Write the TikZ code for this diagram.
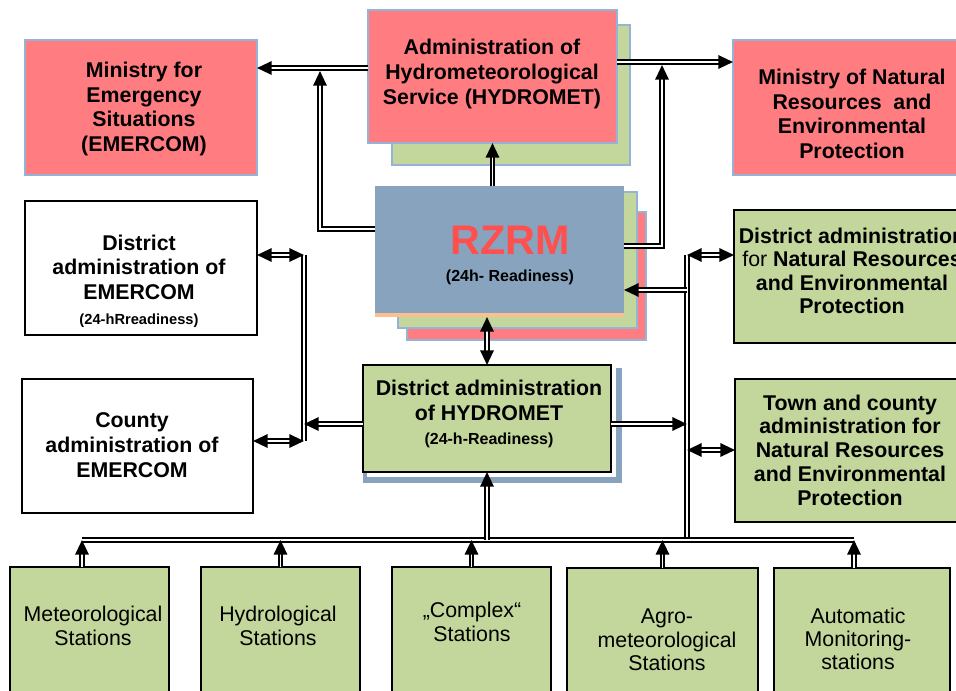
\documentclass[tikz,border=0pt]{standalone}
\usepackage{fontspec}
\setmainfont{Liberation Sans}
\usetikzlibrary{arrows.meta,fit}

\definecolor{boxred}{RGB}{255,124,128}
\definecolor{boxgreen}{RGB}{195,214,155}
\definecolor{boxblue}{RGB}{135,163,190}
\definecolor{edgeblue}{RGB}{149,179,215}
\definecolor{stripe}{RGB}{250,192,143}
\definecolor{rzrmred}{RGB}{255,80,80}

\tikzset{every picture/.style={line width=0.75pt}}
\tikzset{
  box/.style={inner sep=0pt, outer sep=0pt},
  redbox/.style={box, draw=edgeblue, fill=boxred, line width=1.2pt},
  layerbox/.style={box, draw=edgeblue, fill=boxgreen, line width=1.2pt},
  greenbox/.style={box, draw=black, fill=boxgreen, line width=1pt},
  whitebox/.style={box, draw=black, fill=white, line width=1pt},
  dline/.style={draw=black, double=white, double distance=0.8pt, line width=1.6pt},
  conn/.style={dline, -{Triangle[length=11pt,width=10pt]}},
  conntwo/.style={dline, {Triangle[length=11pt,width=10pt]}-{Triangle[length=11pt,width=10pt]}},
  btext/.style={inner sep=0.75pt, align=center, font=\fontsize{16}{18.5}\selectfont\bfseries},
  stext/.style={inner sep=0.75pt, align=center, font=\fontsize{16}{17.5}\selectfont},
}

\begin{document}
\begin{tikzpicture}[x=0.75pt,y=0.75pt,yscale=-1,xscale=1]
	\useasboundingbox (0,0) rectangle (956,690);

	%Shape: Rectangle [Ministry for Emergency Situations]
	\node[redbox, fit={(25,40) (257,175)}] (minemer) {};
	%Shape: Rectangle [HYDROMET, back layer and front]
	\node[layerbox, fit={(392,25) (630,165)}] (hydback) {};
	\node[redbox, fit={(368,10) (617,143)}] (hyd) {};
	%Shape: Rectangle [Ministry of Natural Resources]
	\node[redbox, fit={(733,40) (972,175)}] (minnr) {};
	%Shape: Rectangle [RZRM, three layers]
	\node[redbox, fit={(407,212) (646,340)}] (rzrmback) {};
	\node[layerbox, fit={(398,192) (637,328)}] (rzrmmid) {};
	\node[box, fill=stripe, fit={(375,186) (624,317)}] (rzrm) {};
	\fill[boxblue] (375,186) rectangle (624,313);
	%Shape: Rectangle [District administration of HYDROMET]
	\fill[boxblue] (363,368) rectangle (622,483);
	\fill[white] (367,368) rectangle (616,477);
	\node[greenbox, fit={(363,365) (611,472)}] (dhyd) {};
	%Shape: Rectangle [EMERCOM, district and county]
	\node[whitebox, fit={(25,201) (257,335)}] (demer) {};
	\node[whitebox, fit={(22,379) (253,513)}] (cemer) {};
	%Shape: Rectangle [Natural Resources, district and town]
	\node[greenbox, fit={(734,210) (972,343)}] (dnr) {};
	\node[greenbox, fit={(735,379) (972,522)}] (tnr) {};
	%Shape: Rectangle [stations]
	\node[greenbox, fit={(10,567) (169,700)}] (met) {};
	\node[greenbox, fit={(201,567) (360,700)}] (hydro) {};
	\node[greenbox, fit={(392,567) (551,700)}] (complex) {};
	\node[greenbox, fit={(567,568) (758,700)}] (agro) {};
	\node[greenbox, fit={(774,568) (950,700)}] (auto) {};

	% Text Node
	\node[btext] (minemertxt) at (144,109) {Ministry for\\Emergency\\Situations\\(EMERCOM)};
	% Text Node
	\node[btext] (hydtxt) at (492,74) {Administration of\\Hydrometeorological\\Service (HYDROMET)};
	% Text Node
	\node[btext] (minnrtxt) at (852,114) {Ministry of Natural\\Resources~ and\\Environmental\\Protection};
	% Text Node
	\node[inner sep=0.75pt, font=\fontsize{31}{31}\selectfont\bfseries, text=rzrmred] (rzrmtxt) at (510,240) {RZRM};
	% Text Node
	\node[inner sep=0.75pt, font=\fontsize{12}{14}\selectfont\bfseries] (rzrmsub) at (510,277) {(24h- Readiness)};
	% Text Node
	\node[btext] (dhydtxt) at (489,414) {District administration\\of HYDROMET\\{\fontsize{12}{14}\selectfont (24-h-Readiness)}};
	% Text Node
	\node[btext] (demertxt) at (139,281) {District\\administration of\\EMERCOM\\{\fontsize{11}{13}\selectfont (24-hRreadiness)}};
	% Text Node
	\node[btext] (cemertxt) at (132,445) {County\\administration of\\EMERCOM};
	% Text Node
	\node[btext, font=\fontsize{16}{17.5}\selectfont\bfseries] (dnrtxt) at (852,271) {District administration\\{\mdseries for} Natural Resources\\and Environmental\\Protection};
	% Text Node
	\node[btext, font=\fontsize{16}{17.8}\selectfont\bfseries] (tnrtxt) at (850,450) {Town and county\\administration for\\Natural Resources\\and Environmental\\Protection};
	% Text Node
	\node[stext] (mettxt) at (93,626) {Meteorological\\Stations};
	% Text Node
	\node[stext] (hydrotxt) at (278,626) {Hydrological\\Stations};
	% Text Node
	\node[stext] (complextxt) at (472,622) {„Complex“\\Stations};
	% Text Node
	\node[stext] (agrotxt) at (667,640) {Agro-\\meteorological\\Stations};
	% Text Node
	\node[stext] (autotxt) at (858,639) {Automatic\\Monitoring-\\stations};

	% junctions of the connectors
	\coordinate (hl) at (320,68);
	\coordinate (hlt) at (320,71);
	\coordinate (rl) at (320,229);
	\coordinate (hr) at (662,62);
	\coordinate (hrt) at (662,65);
	\coordinate (rr) at (662,246);
	\coordinate (lt) at (304,255);
	\coordinate (lm) at (304,424);
	\coordinate (lb) at (304,441);
	\coordinate (rt) at (687,255);
	\coordinate (rm) at (687,290);
	\coordinate (rh) at (687,424);
	\coordinate (rb) at (687,450);
	\coordinate (busl) at (82,540);
	\coordinate (busm) at (687,540);
	\coordinate (busr) at (854,540);

	%Straight Lines [top]
	\draw[conn] (hyd.west |- hl) -- (minemer.east |- hl);
	\draw[conn] (rzrm.west |- rl) -| (hlt);
	\draw[conn] (hyd.east |- hr) -- (minnr.west |- hr);
	\draw[conn] (rzrm.east |- rr) -| (hrt);
	\draw[conn] (hyd.south |- rzrm.north) -- (hyd.south);
	\draw[conntwo] (dhyd.north) -- (dhyd.north |- rzrm.south);
	%Straight Lines [left]
	\draw[dline] (lt) -- (lb);
	\draw[conntwo] (demer.east |- lt) -- (lt);
	\draw[conntwo] (cemer.east |- lb) -- (lb);
	\draw[conn] (dhyd.west |- lm) -- (lm);
	%Straight Lines [right]
	\draw[dline] (busm) -- (rt);
	\draw[conntwo] (rt) -- (dnr.west |- rt);
	\draw[conn] (rm) -- (rm -| rzrm.east);
	\draw[conn] (dhyd.east |- rh) -- (rh);
	\draw[conntwo] (rb) -- (tnr.west |- rb);
	%Straight Lines [stations]
	\draw[dline] (busl) -- (busr);
	\draw[conn] (dhyd.south |- busl) -- (dhyd.south);
	\draw[conn] (met.north -| busl) -- (busl);
	\foreach \s in {hydro,complex,agro}
		\draw[conn] (\s.north) -- (\s.north |- busl);
	\draw[conn] (auto.north -| busr) -- (busr);
\end{tikzpicture}
\end{document}
